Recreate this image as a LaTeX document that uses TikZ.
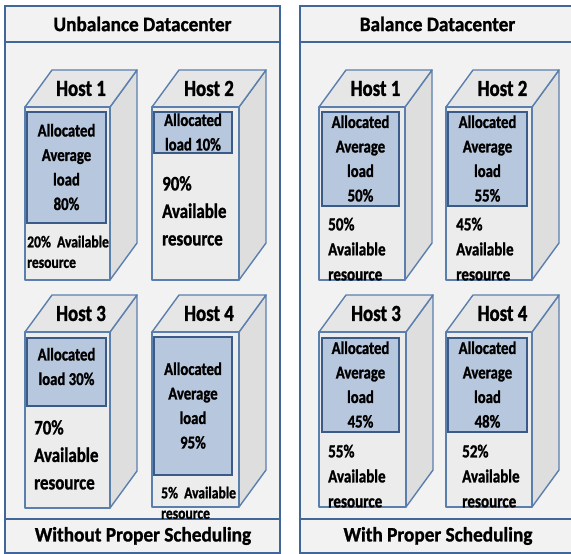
\documentclass[tikz,border=0pt]{standalone}
\usepackage{fontspec}
\setmainfont{Carlito}
\newfontfamily\hdrfont{Carlito}[UprightFont={* Bold}, FakeStretch=0.94, FakeBold=1.2]
\newfontfamily\txtfont{Carlito}[UprightFont={* Bold}, FakeStretch=0.82, FakeBold=1.2]

\definecolor{panelfill}{HTML}{F2F2F2}
\definecolor{panelline}{HTML}{41679A}
\definecolor{edgeline}{HTML}{5B7FAD}
\definecolor{frontfill}{HTML}{ECECEC}
\definecolor{sidefill}{HTML}{DEDEDE}
\definecolor{topfill}{HTML}{E6E6E6}
\definecolor{loadfill}{HTML}{B7C7DD}
\definecolor{loadline}{HTML}{3A5B88}

% one server drawn as a box: #1 title node name, #2 left, #3 front top,
% #4 right, #5 bottom, #6 title
\newcommand\hostcube[6]{%
  \draw[face, fill=sidefill] (#4,#3) -- ({#4+27},{#3-37}) -- ({#4+27},{#5-37}) -- (#4,#5) -- cycle;
  \draw[face, fill=topfill] (#2,#3) -- ({#2+27},{#3-37}) -- ({#4+27},{#3-37}) -- (#4,#3) -- cycle;
  \draw[face, fill=frontfill] (#2,#3) rectangle (#4,#5);
  \node[hosttitle] (#1) at ({(#2+#4)/2+13.5},{#3-18.5}) {#6};
}
% allocated share of a server: #1 left, #2 top, #3 right, #4 bottom
\newcommand\loadrect[4]{%
  \draw[loadbox] ({#1+1.2},{#2+1.2}) rectangle ({#3-1.2},{#4-1.2});
}

\begin{document}
\begin{tikzpicture}[x=1pt,y=-1pt,
  panel/.style={draw=panelline, line width=2.4pt, fill=panelfill},
  divider/.style={draw=panelline, line width=2.4pt},
  face/.style={draw=edgeline, line width=1.4pt, line join=round},
  loadbox/.style={draw=loadline, line width=2.4pt, fill=loadfill},
  panelhead/.style={font=\hdrfont\fontsize{20.5}{24}\selectfont, inner sep=0pt},
  hosttitle/.style={font=\txtfont\fontsize{23}{25}\selectfont, inner sep=0pt},
  loadtext/.style={font=\txtfont\fontsize{18}{24.5}\selectfont, align=center, inner sep=0pt},
  freebig/.style={font=\txtfont\fontsize{20.6}{27.5}\selectfont, align=left, anchor=north west, inner sep=0pt},
  freemid/.style={font=\txtfont\fontsize{18.4}{25}\selectfont, align=left, anchor=north west, inner sep=0pt},
  freesmall/.style={font=\txtfont\fontsize{16.6}{20.5}\selectfont, align=left, anchor=north west, inner sep=0pt}]
\useasboundingbox (0,0) rectangle (571,554);

% ---- panels -------------------------------------------------------
\draw[panel] (5,6) rectangle (280,553);
\draw[divider] (5,42) -- (280,42);
\draw[divider] (5,519) -- (280,519);
\draw[panel] (300,6) rectangle (576,553);
\draw[divider] (300,42) -- (576,42);
\draw[divider] (300,519) -- (576,519);

\node[panelhead] (lhead) at (142.5,24) {Unbalance Datacenter};
\node[panelhead] (lfoot) at (143,536) {Without Proper Scheduling};
\node[panelhead] (rhead) at (437.5,24) {Balance Datacenter};
\node[panelhead] (rfoot) at (438,536) {With Proper Scheduling};

% ---- unbalanced datacenter ---------------------------------------
\hostcube{lh1}{25}{107}{110}{280}{Host 1}
\loadrect{26}{111}{107}{224}
\node[loadtext] (lh1load) at (66.5,167) {Allocated\\Average\\load\\80\%};
\node[freesmall] (lh1free) at (27,235.5) {20\%~~Available\\resource};

\hostcube{lh2}{152}{107}{239}{280}{Host 2}
\loadrect{153}{111}{233}{154}
\node[loadtext] (lh2load) at (193,132) {Allocated\\load 10\%};
\node[freebig] (lh2free) at (162,176) {90\%\\Available\\resource};

\hostcube{lh3}{25}{332}{110}{508}{Host 3}
\loadrect{26}{337}{107}{407}
\node[loadtext] (lh3load) at (66.5,366.5) {Allocated\\load 30\%};
\node[freebig] (lh3free) at (34,420) {70\%\\Available\\resource};

\hostcube{lh4}{152}{332}{239}{507}{Host 4}
\loadrect{153}{336}{233}{476}
\node[loadtext] (lh4load) at (193,405.5) {Allocated\\Average\\load\\95\%};
\node[freesmall] (lh4free) at (161,486.5) {5\%~~Available\\resource};

% ---- balanced datacenter -----------------------------------------
\hostcube{rh1}{319}{107}{405}{280}{Host 1}
\loadrect{321}{111}{400}{207}
\node[loadtext] (rh1load) at (360.5,158.5) {Allocated\\Average\\load\\50\%};
\node[freemid] (rh1free) at (328,217.5) {50\%\\Available\\resource};

\hostcube{rh2}{446}{107}{532}{280}{Host 2}
\loadrect{447}{111}{528}{207}
\node[loadtext] (rh2load) at (487.5,158.5) {Allocated\\Average\\load\\55\%};
\node[freemid] (rh2free) at (456,217.5) {45\%\\Available\\resource};

\hostcube{rh3}{319}{332}{406}{507}{Host 3}
\loadrect{321}{337}{400}{433}
\node[loadtext] (rh3load) at (360.5,384.5) {Allocated\\Average\\load\\45\%};
\node[freemid] (rh3free) at (328,444.5) {55\%\\Available\\resource};

\hostcube{rh4}{446}{332}{532}{507}{Host 4}
\loadrect{447}{337}{528}{433}
\node[loadtext] (rh4load) at (487.5,384.5) {Allocated\\Average\\load\\48\%};
\node[freemid] (rh4free) at (462,444.5) {52\%\\Available\\resource};
\end{tikzpicture}
\end{document}
